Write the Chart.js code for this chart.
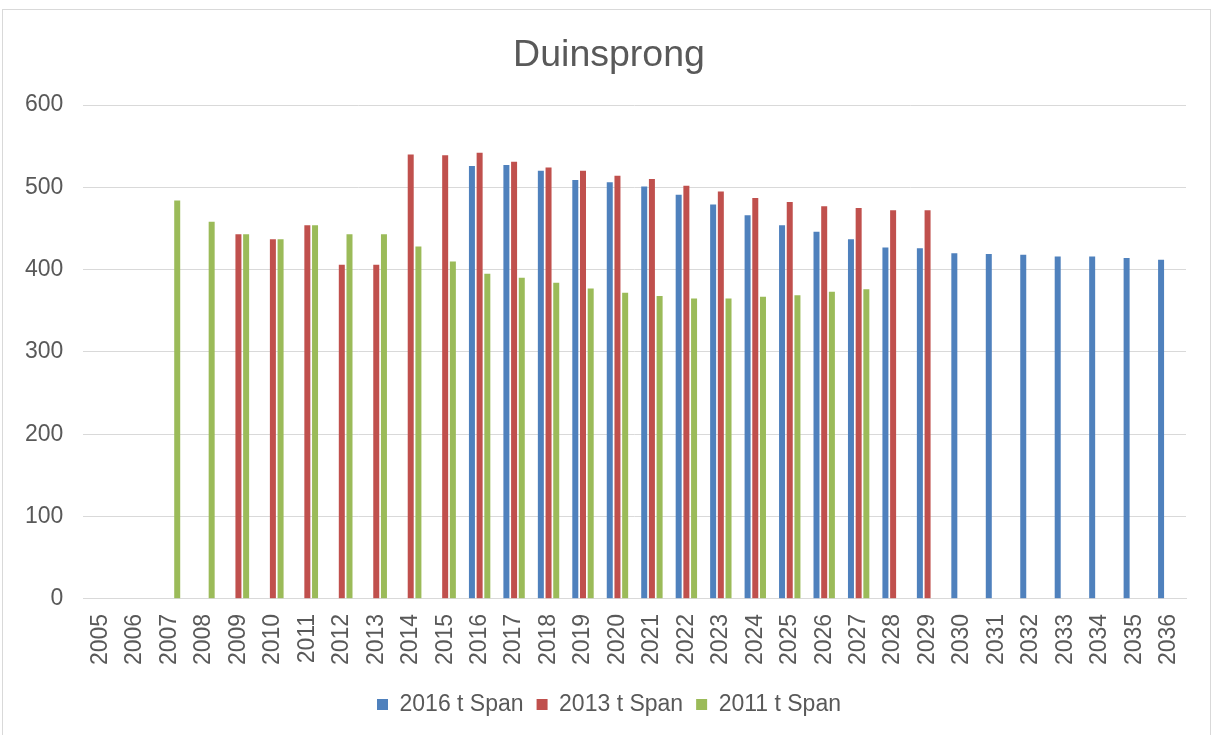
<!DOCTYPE html>
<html>
<head>
<meta charset="utf-8">
<script src="https://cdn.jsdelivr.net/npm/chart.js@4"></script>
<style>
  body { margin: 0; background: #fff; }
  canvas { display: block; }
</style>
</head>
<body>
<canvas id="duinChart" width="1213" height="735"></canvas>
<script>
const years = ['2005', '2006', '2007', '2008', '2009', '2010', '2011', '2012', '2013', '2014',
  '2015', '2016', '2017', '2018', '2019', '2020', '2021', '2022', '2023', '2024', '2025',
  '2026', '2027', '2028', '2029', '2030', '2031', '2032', '2033', '2034', '2035', '2036'];

const span2016 = [null, null, null, null, null, null, null, null, null, null, null,
  526, 527, 520, 509, 506, 501, 491, 479, 466, 454, 446, 437, 427, 426,
  420, 419, 418, 416, 416, 414, 412];

const span2013 = [null, null, null, null, 443, 437, 454, 406, 406, 540, 539,
  542, 531, 524, 520, 514, 510, 502, 495, 487, 482, 477, 475, 472, 472,
  null, null, null, null, null, null, null];

const span2011 = [null, null, 484, 458, 443, 437, 454, 443, 443, 428, 410,
  395, 390, 384, 377, 372, 368, 365, 365, 367, 369, 373, 376, null, null,
  null, null, null, null, null, null, null];

const seriesNames = ['2016 t Span', '2013 t Span', '2011 t Span'];

const textColor = '#595959';
const gridColor = '#d9d9d9';
const fontFamily = '"Liberation Sans", Arial, sans-serif';

// chart border like the spreadsheet frame
const frame = {
  id: 'frame',
  beforeDraw(chart) {
    const ctx = chart.ctx;
    ctx.save();
    ctx.fillStyle = '#fff';
    ctx.fillRect(0, 0, chart.width, chart.height);
    ctx.strokeStyle = gridColor;
    ctx.lineWidth = 1;
    ctx.strokeRect(2.5, 9.5, 1208, 740);
    ctx.restore();
  }
};

const ctx = document.getElementById('duinChart').getContext('2d');
new Chart(ctx, {
  type: 'bar',
  data: {
    labels: years,
    datasets: [
      { label: seriesNames[0], data: span2016, backgroundColor: '#4F81BD' },
      { label: seriesNames[1], data: span2013, backgroundColor: '#C0504D' },
      { label: seriesNames[2], data: span2011, backgroundColor: '#9BBB59' }
    ]
  },
  options: {
    responsive: false,
    animation: false,
    categoryPercentage: 0.67,
    barPercentage: 0.78,
    layout: { padding: { left: 5, right: 0, top: 0, bottom: 9 } },
    plugins: {
      title: {
        display: true,
        text: 'Duinsprong',
        color: textColor,
        font: { family: fontFamily, size: 37.5, weight: 'normal' },
        padding: { top: 33, bottom: 27 }
      },
      legend: {
        position: 'bottom',
        labels: {
          color: textColor,
          font: { family: fontFamily, size: 23 },
          boxWidth: 11,
          boxHeight: 11,
          padding: 13
        }
      },
      tooltip: { enabled: false }
    },
    scales: {
      x: {
        grid: { display: false, drawTicks: false },
        border: { display: true, color: gridColor, width: 1 },
        ticks: {
          color: textColor,
          font: { family: fontFamily, size: 23 },
          minRotation: 90,
          maxRotation: 90,
          autoSkip: false,
          padding: 15
        }
      },
      y: {
        min: 0,
        max: 600,
        grid: { color: gridColor, drawTicks: false, lineWidth: 1 },
        border: { display: false },
        ticks: {
          stepSize: 100,
          color: textColor,
          font: { family: fontFamily, size: 23 },
          padding: 20
        }
      },
      // empty right-hand margin so title and legend stay centred on the whole frame
      spacer: {
        position: 'right',
        grid: { display: false },
        border: { display: false },
        ticks: { display: false },
        afterFit(scale) { scale.width = 27; }
      }
    }
  },
  plugins: [frame]
});
</script>
</body>
</html>
